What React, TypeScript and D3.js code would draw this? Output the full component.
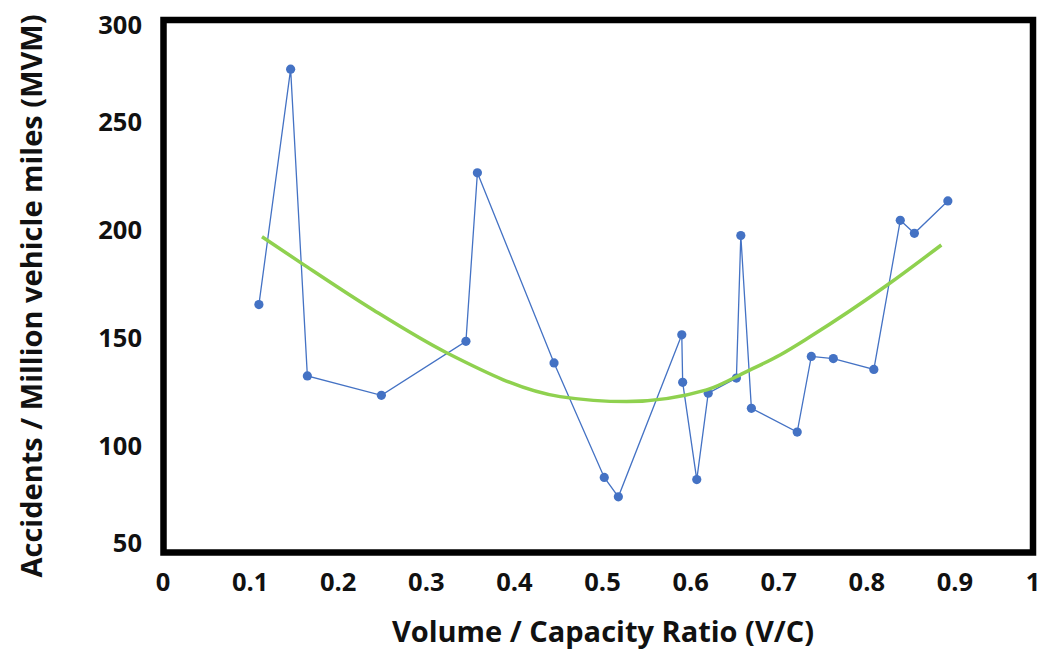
import React from "react";
import * as d3 from "d3";

// V/C ratio and accident rate
const vcRatio = [
  0.11, 0.146, 0.165, 0.249, 0.345, 0.358, 0.445, 0.502, 0.518, 0.59, 0.591,
  0.607, 0.62, 0.652, 0.657, 0.669, 0.721, 0.737, 0.762, 0.808, 0.838, 0.854,
  0.892,
];
const accidentRate = [
  165, 274, 132, 123, 148, 226, 138, 85, 76, 151, 129, 84, 124, 131, 197, 117,
  106, 141, 140, 135, 204, 198, 213,
];
// points read along the green polynomial trendline
const trendX = [0.1135, 0.1586, 0.2399, 0.323, 0.4518, 0.5274, 0.6182, 0.6636, 0.7015, 0.7355, 0.8244, 0.8846];
const trendY = [196.4, 184.1, 162.5, 142.7, 122.4, 120.1, 125.5, 134, 141.7, 150.1, 174.4, 192.6];

const xTicks = [0, 0.1, 0.2, 0.3, 0.4, 0.5, 0.6, 0.7, 0.8, 0.9, 1];
const yTicks = [50, 100, 150, 200, 250, 300];

const width = 1042;
const height = 652;
const frame = { left: 163.5, top: 20, right: 1033, bottom: 552.5 };
const font = "'Open Sans', 'DejaVu Sans', sans-serif";

export default function App() {
  const x = d3.scaleLinear().domain([0, 1]).range([162, 1043]);
  const y = d3.scaleLinear().domain([50, 300]).range([553, 13]);

  const points = vcRatio.map((v, i) => [v, accidentRate[i]] as [number, number]);
  const trendPts = trendX.map((v, i) => [v, trendY[i]] as [number, number]);

  const line = d3
    .line<[number, number]>()
    .x((d) => x(d[0]))
    .y((d) => y(d[1]));
  const smooth = line.curve(d3.curveMonotoneX);

  const dataPath = d3.line<[number, number]>().x((d) => x(d[0])).y((d) => y(d[1]))(points);

  return (
    <div style={{ position: "fixed", left: 0, top: 0 }}>
      <svg width={width} height={height} style={{ display: "block", background: "#fff" }}>
        <path d={dataPath || ""} fill="none" stroke="#4472C4" strokeWidth={1.3} />
        {points.map((d, i) => (
          <circle key={i} cx={x(d[0])} cy={y(d[1])} r={4.6} fill="#4472C4" />
        ))}
        <path d={smooth(trendPts) || ""} fill="none" stroke="#8FD14F" strokeWidth={3.5} />

        <rect
          x={frame.left}
          y={frame.top}
          width={frame.right - frame.left}
          height={frame.bottom - frame.top}
          fill="none"
          stroke="#000"
          strokeWidth={6.5}
        />

        <g fontFamily={font} fontWeight={700} fontSize={25.5} fill="#111">
          {yTicks.map((t) => (
            <text
              key={t}
              x={142}
              y={Math.min(Math.max(y(t), 24), 542)}
              textAnchor="end"
              dominantBaseline="central"
            >
              {t}
            </text>
          ))}
          {xTicks.map((t) => (
            <text
              key={t}
              x={Math.min(Math.max(x(t), 163), 1033)}
              y={581}
              textAnchor="middle"
              dominantBaseline="central"
            >
              {String(t)}
            </text>
          ))}
        </g>

        <text
          x={603}
          y={630}
          textAnchor="middle"
          dominantBaseline="central"
          fontFamily={font}
          fontWeight={700}
          fontSize={29}
          fill="#111"
        >
          Volume / Capacity Ratio (V/C)
        </text>
        <text
          transform={`translate(30,296) rotate(-90)`}
          textAnchor="middle"
          dominantBaseline="central"
          fontFamily={font}
          fontWeight={700}
          fontSize={29}
          fill="#111"
        >
          Accidents / Million vehicle miles (MVM)
        </text>
      </svg>
    </div>
  );
}
